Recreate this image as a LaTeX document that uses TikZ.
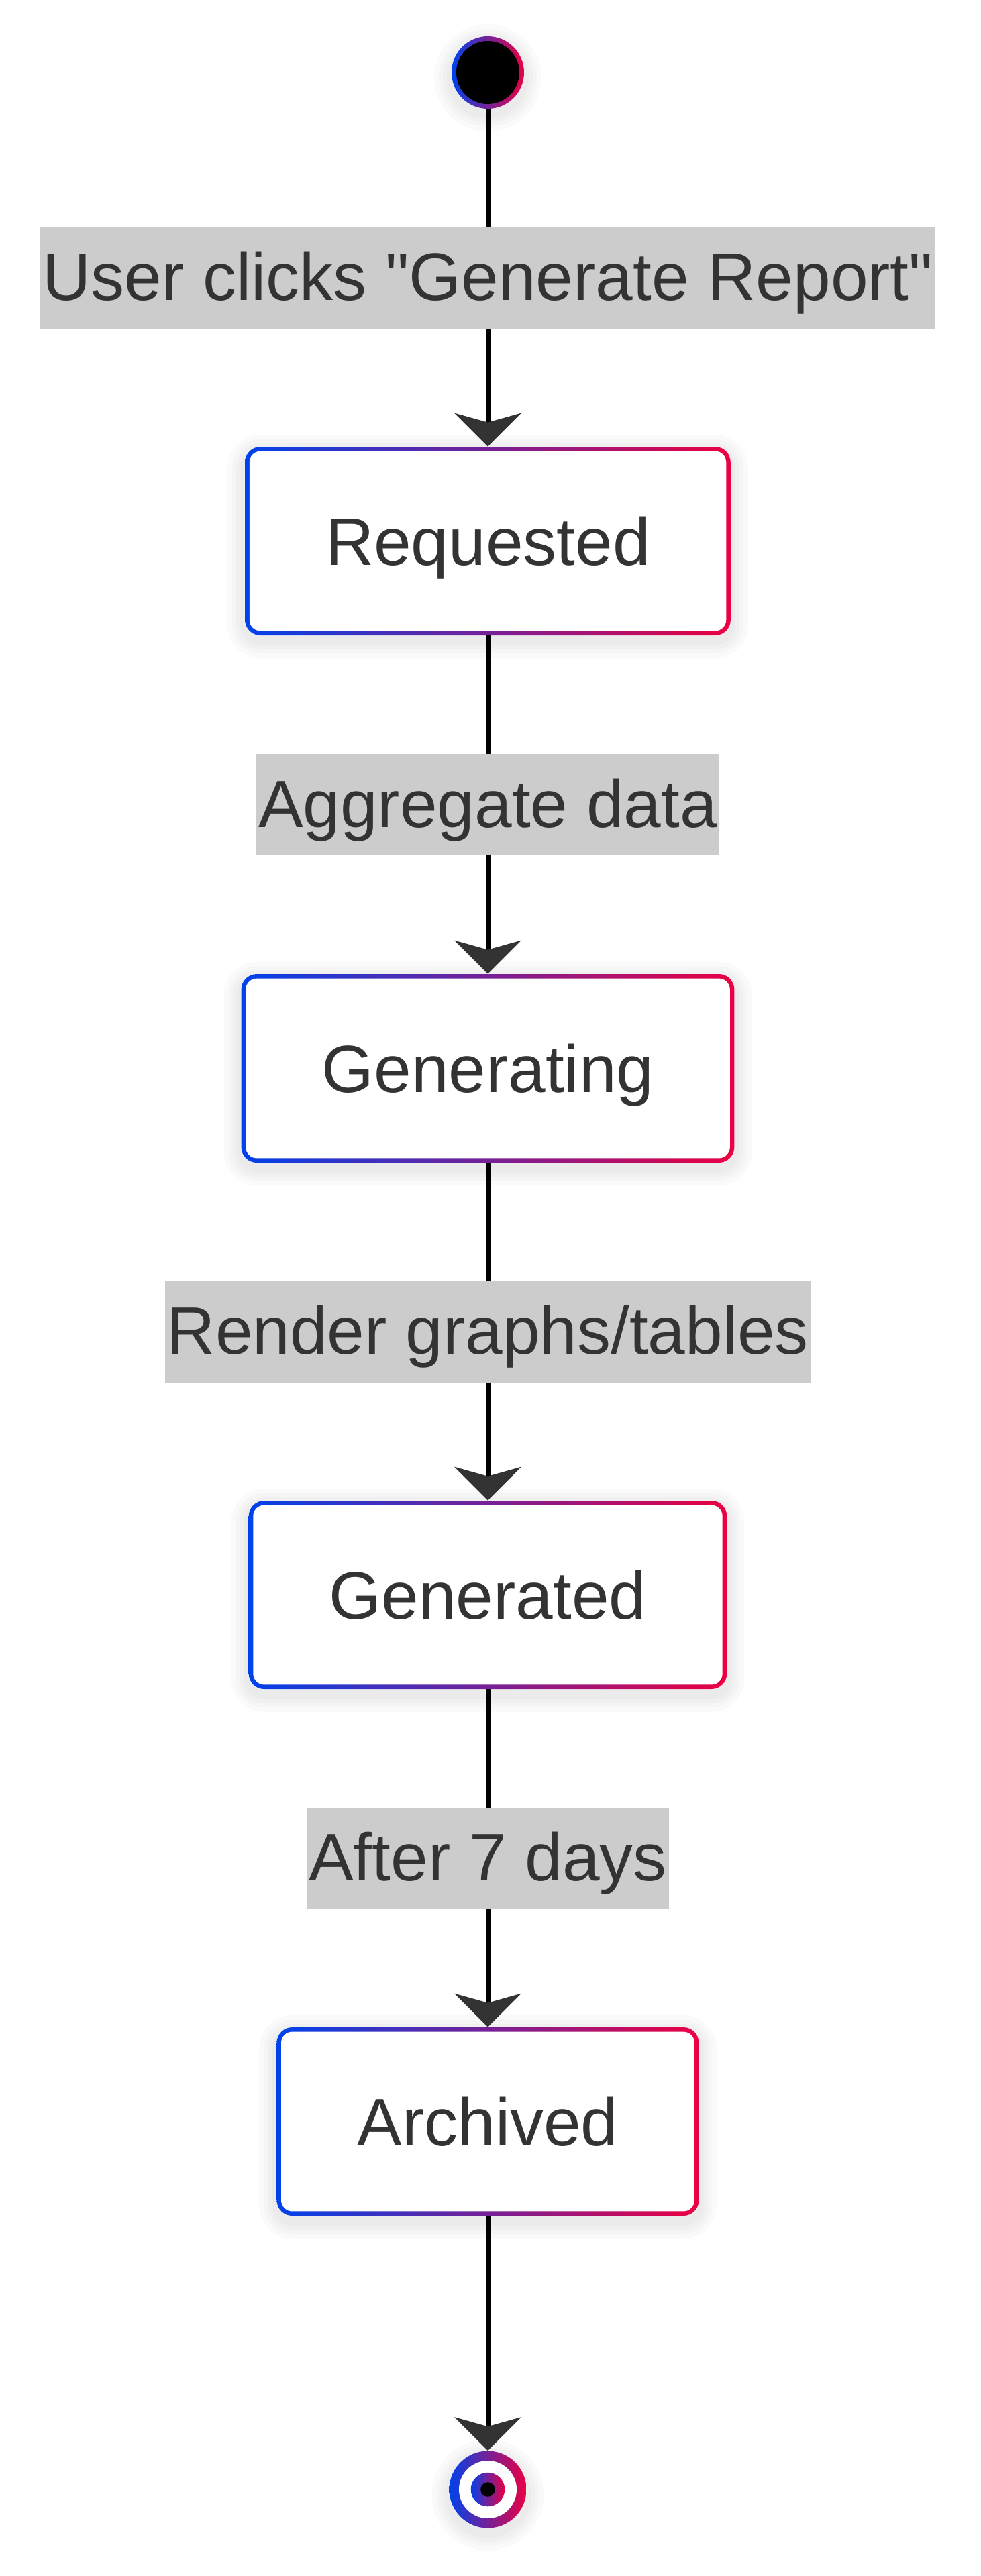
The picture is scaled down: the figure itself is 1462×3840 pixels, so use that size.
\documentclass[tikz,border=0pt]{standalone}
\usepackage{fontspec}
\setmainfont{Liberation Sans}[Ligatures=TeXOff]
\usetikzlibrary{arrows.meta}
\definecolor{gblue}{RGB}{0,66,235}
\definecolor{gred}{RGB}{235,0,66}
\definecolor{txt}{HTML}{333333}
\definecolor{lbl}{HTML}{CCCCCC}
\newcommand\diafont{\fontsize{50pt}{60pt}\selectfont}
\tikzset{
  halo/.style={preaction={draw=black,draw opacity=0.02,line width=#1,transform canvas={yshift=-4pt}}},
  shadowed/.style={halo=26pt,halo=19pt,halo=13pt,halo=7pt},
  statebox/.style={shape=rectangle, rounded corners=11.5pt, fill=white, shadowed,
    minimum height=140.5pt, inner xsep=60pt, inner ysep=0pt,
    text height=35.8pt, text depth=0pt, text=txt, font=\diafont,
    path picture={
      \shade[left color=gblue,right color=gred]
        (path picture bounding box.south west) rectangle (path picture bounding box.north east);
      \fill[white, rounded corners=8.2pt]
        ([shift={(3.3pt,3.3pt)}]path picture bounding box.south west) rectangle
        ([shift={(-3.3pt,-3.3pt)}]path picture bounding box.north east);}},
  startdot/.style={shape=circle, minimum size=54pt, inner sep=0pt, fill=white, shadowed,
    path picture={
      \shade[left color=gblue,right color=gred]
        (path picture bounding box.south west) rectangle (path picture bounding box.north east);
      \fill[black] (path picture bounding box.center) circle (23.5pt);}},
  enddot/.style={shape=circle, minimum size=57.5pt, inner sep=0pt, fill=white, shadowed,
    path picture={
      \shade[left color=gblue,right color=gred]
        (path picture bounding box.south west) rectangle (path picture bounding box.north east);
      \fill[white] (path picture bounding box.center) circle (21.5pt);
      \shade[left color=gblue,right color=gred] (path picture bounding box.center) circle (12.65pt);
      \fill[black] (path picture bounding box.center) circle (5.4pt);}},
  edge/.style={draw=black, line width=3.5pt,
    -{Stealth[length=25pt,width=50pt,inset=7pt,line width=0pt,color=txt]}},
  elabel/.style={fill=lbl, text=txt, font=\diafont, inner xsep=1.5pt, inner ysep=0pt,
    minimum height=75.5pt, text height=36pt, text depth=2.5pt}
}
\begin{document}
\begin{tikzpicture}[x=0.5pt,y=-0.5pt]
  \useasboundingbox[fill=white] (0,0) rectangle (1462,3840);
  \node[startdot] (start) at (727,108) {};
  \node[statebox] (req) at (727,806.5) {Requested};
  \node[statebox] (gening) at (727,1592.5) {Generating};
  \node[statebox] (gened) at (727,2377.5) {Generated};
  \node[statebox] (arch) at (727,3162.5) {Archived};
  \node[enddot] (stop) at (727,3711) {};
  \draw[edge] (start) -- node[elabel] {User clicks "Generate Report"} (req);
  \draw[edge] (req) -- node[elabel] {Aggregate data} (gening);
  \draw[edge] (gening) -- node[elabel] {Render graphs/tables} (gened);
  \draw[edge] (gened) -- node[elabel] {After 7 days} (arch);
  \draw[edge] (arch) -- (stop);
\end{tikzpicture}
\end{document}
